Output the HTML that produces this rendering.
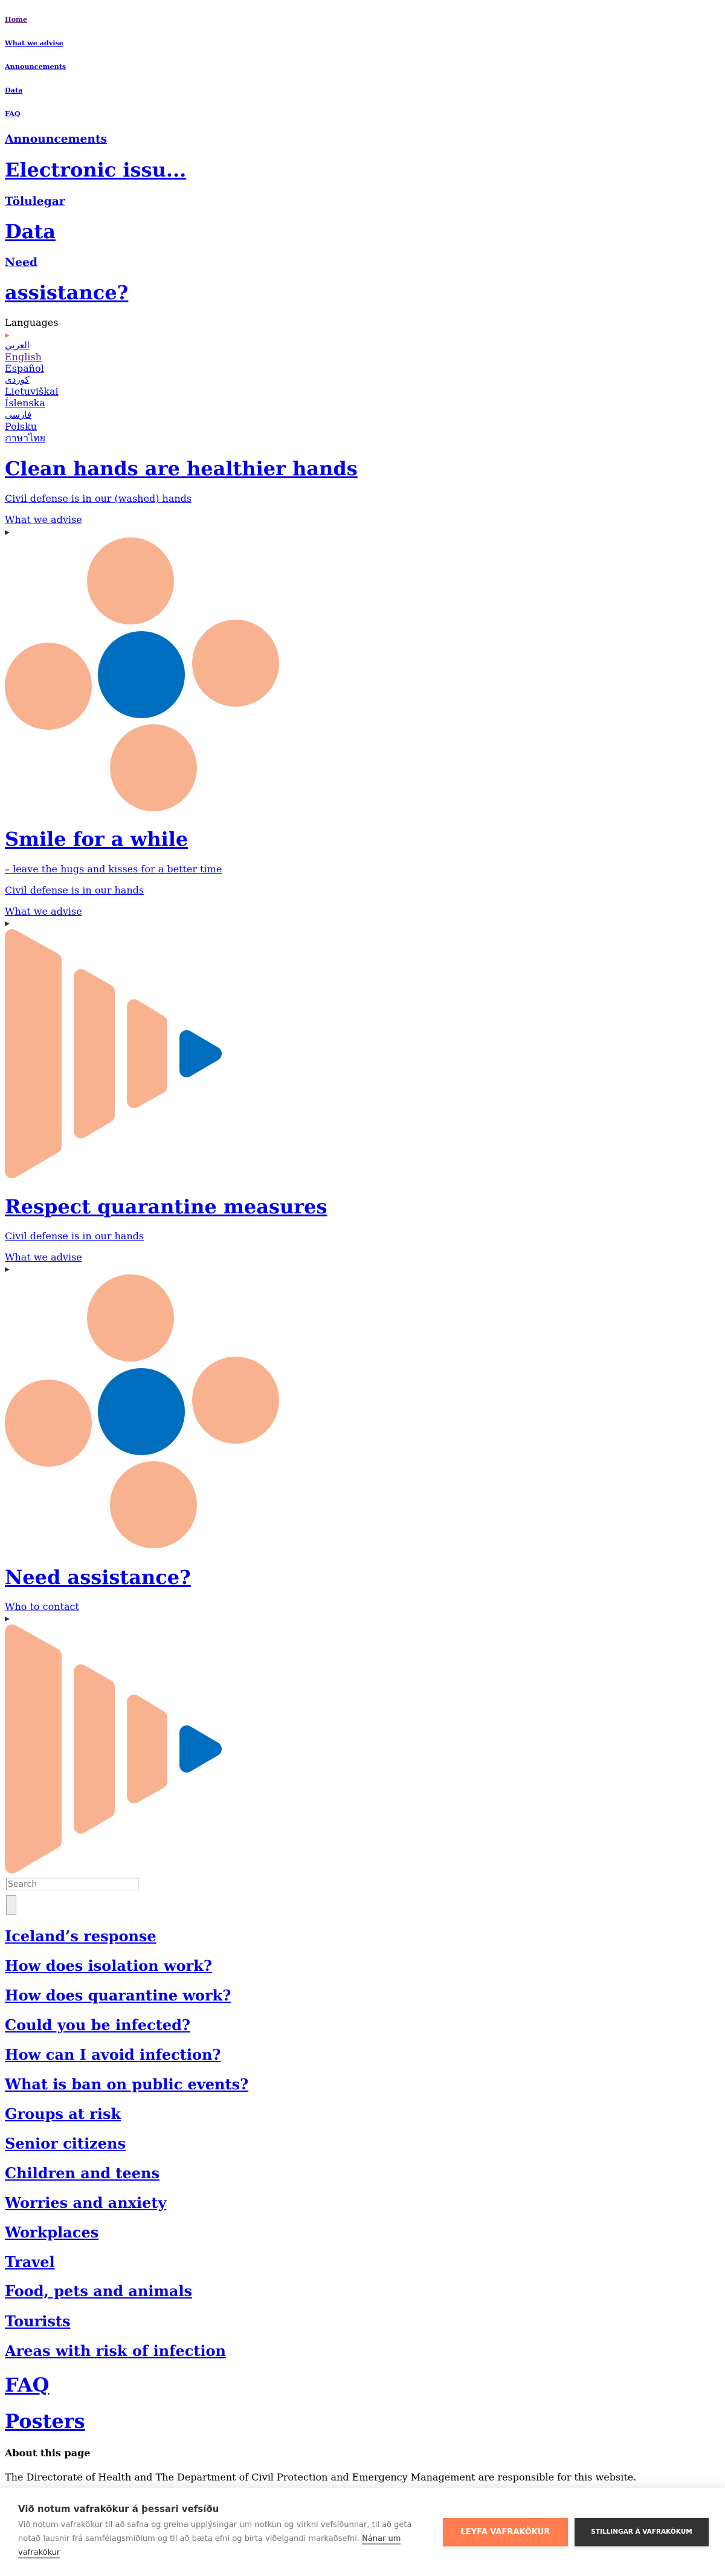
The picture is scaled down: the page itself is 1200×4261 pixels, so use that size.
<!DOCTYPE html>
<html><head><meta charset="utf-8">
<style>
html,body{margin:0;padding:0;background:#fff;}
body{width:1200px;height:4261px;position:relative;overflow:hidden;font-family:"DejaVu Serif","Liberation Serif",serif;}
.a{position:absolute;left:8px;white-space:nowrap;margin:0;}
a{color:#0000EE;text-decoration:underline;}
a.v{color:#551A8B;}
.h6{font-size:11.2px;font-weight:bold;line-height:13px;}
.h3{font-size:18.72px;font-weight:bold;line-height:22px;}
.h1{font-size:32px;font-weight:bold;line-height:38px;}
.h2{font-size:24px;font-weight:bold;line-height:28px;}
.p{font-size:16px;line-height:19px;}
.lang{font-size:16px;line-height:19px;}
svg{position:absolute;left:0;}
.banner{position:absolute;left:0;top:4115px;width:1200px;height:146px;background:#fff;box-shadow:0 -6px 14px rgba(0,0,0,0.08);font-family:"DejaVu Sans","Liberation Sans",sans-serif;}
.btn{position:absolute;top:50px;height:47px;color:#fff;font-weight:bold;text-align:center;line-height:47px;box-shadow:0 2px 6px rgba(0,0,0,0.15);}
</style></head><body>

<div class="a h6" style="top:26px"><a class="v">Home</a></div>
<div class="a h6" style="top:65px"><a>What we advise</a></div>
<div class="a h6" style="top:104px"><a>Announcements</a></div>
<div class="a h6" style="top:143px"><a>Data</a></div>
<div class="a h6" style="top:182px"><a>FAQ</a></div>

<div class="a h3" style="top:219px"><a>Announcements</a></div>
<div class="a h1" style="top:262px"><a>Electronic issu...</a></div>
<div class="a h3" style="top:322px"><a>Tölulegar</a></div>
<div class="a h1" style="top:364px"><a>Data</a></div>
<div class="a h3" style="top:423px"><a>Need</a></div>
<div class="a h1" style="top:465px"><a>assistance?</a></div>

<div class="a lang" style="top:524px;color:#000">Languages</div>
<svg style="top:550px" width="20" height="10"><polygon points="8,1 16,5 8,9" fill="#FF7D4F"/></svg>
<div class="a lang" style="top:562px;font-family:'DejaVu Sans',sans-serif;font-size:15px"><a>العربي</a></div>
<div class="a lang" style="top:581px"><a class="v">English</a></div>
<div class="a lang" style="top:600px"><a>Español</a></div>
<div class="a lang" style="top:619px;font-family:'DejaVu Sans',sans-serif;font-size:15px"><a>کوردی</a></div>
<div class="a lang" style="top:638px"><a>Lietuviškai</a></div>
<div class="a lang" style="top:657px"><a>Íslenska</a></div>
<div class="a lang" style="top:677px;font-family:'DejaVu Sans',sans-serif;font-size:15px"><a>فارسی</a></div>
<div class="a lang" style="top:696px"><a>Polsku</a></div>
<div class="a lang" style="top:715px"><a>ภาษาไทย</a></div>

<!-- Section 1 -->
<div class="a h1" style="top:756px"><a>Clean hands are healthier hands</a></div>
<div class="a p" style="top:815px"><a>Civil defense is in our (washed) hands</a></div>
<div class="a p" style="top:850px"><a>What we advise</a></div>
<svg style="top:876px" width="20" height="10"><polygon points="8,1 16,5 8,9" fill="#333"/></svg>
<svg style="top:880px" width="480" height="470">
<circle cx="216" cy="81" r="72" fill="#F9B28F"/>
<circle cx="80" cy="255" r="72" fill="#F9B28F"/>
<circle cx="234" cy="236" r="72" fill="#006EBF"/>
<circle cx="390" cy="217" r="72" fill="#F9B28F"/>
<circle cx="254" cy="390" r="72" fill="#F9B28F"/>
</svg>

<!-- Section 2 -->
<div class="a h1" style="top:1369px"><a>Smile for a while</a></div>
<div class="a p" style="top:1428px"><a>– leave the hugs and kisses for a better time</a></div>
<div class="a p" style="top:1463px"><a>Civil defense is in our hands</a></div>
<div class="a p" style="top:1498px"><a>What we advise</a></div>
<svg style="top:1523px" width="20" height="10"><polygon points="8,1 16,5 8,9" fill="#333"/></svg>
<svg style="top:1530px" width="400" height="430">
<g stroke-linejoin="round" stroke-width="24">
<polygon points="20,19 90,58 90,366 20,407" fill="#F9B28F" stroke="#F9B28F"/>
<polygon points="134,85 178,110 178,315 134,341" fill="#F9B28F" stroke="#F9B28F"/>
<polygon points="222,135 265,161 265,267 222,291" fill="#F9B28F" stroke="#F9B28F"/>
<polygon points="309,186 355,213 309,240" fill="#006EBF" stroke="#006EBF"/>
</g></svg>

<!-- Section 3 -->
<div class="a h1" style="top:1977px"><a>Respect quarantine measures</a></div>
<div class="a p" style="top:2035px"><a>Civil defense is in our hands</a></div>
<div class="a p" style="top:2070px"><a>What we advise</a></div>
<svg style="top:2095px" width="20" height="10"><polygon points="8,1 16,5 8,9" fill="#333"/></svg>
<svg style="top:2099px" width="480" height="470">
<circle cx="216" cy="81" r="72" fill="#F9B28F"/>
<circle cx="80" cy="255" r="72" fill="#F9B28F"/>
<circle cx="234" cy="236" r="72" fill="#006EBF"/>
<circle cx="390" cy="217" r="72" fill="#F9B28F"/>
<circle cx="254" cy="390" r="72" fill="#F9B28F"/>
</svg>

<!-- Section 4 -->
<div class="a h1" style="top:2590px"><a>Need assistance?</a></div>
<div class="a p" style="top:2648px"><a>Who to contact</a></div>
<svg style="top:2673px" width="20" height="10"><polygon points="8,1 16,5 8,9" fill="#333"/></svg>
<svg style="top:2680px" width="400" height="430">
<g stroke-linejoin="round" stroke-width="24">
<polygon points="20,19 90,58 90,366 20,407" fill="#F9B28F" stroke="#F9B28F"/>
<polygon points="134,85 178,110 178,315 134,341" fill="#F9B28F" stroke="#F9B28F"/>
<polygon points="222,135 265,161 265,267 222,291" fill="#F9B28F" stroke="#F9B28F"/>
<polygon points="309,186 355,213 309,240" fill="#006EBF" stroke="#006EBF"/>
</g></svg>

<input type="text" placeholder="Search" style="position:absolute;left:10px;top:3106px;width:214px;height:19px;padding:0 2px;border:1px solid #999;border-right-color:#ddd;border-bottom-color:#ddd;font-family:'DejaVu Sans',sans-serif;font-size:14px;box-sizing:content-box;">
<button style="position:absolute;left:10px;top:3135px;width:17px;height:32px;background:#efedea;border:1px solid #aaa;padding:0"></button>

<div class="a h2" style="top:3189px"><a>Iceland’s response</a></div>
<div class="a h2" style="top:3238px"><a>How does isolation work?</a></div>
<div class="a h2" style="top:3287px"><a>How does quarantine work?</a></div>
<div class="a h2" style="top:3336px"><a>Could you be infected?</a></div>
<div class="a h2" style="top:3385px"><a>How can I avoid infection?</a></div>
<div class="a h2" style="top:3434px"><a>What is ban on public events?</a></div>
<div class="a h2" style="top:3483px"><a>Groups at risk</a></div>
<div class="a h2" style="top:3532px"><a>Senior citizens</a></div>
<div class="a h2" style="top:3581px"><a>Children and teens</a></div>
<div class="a h2" style="top:3630px"><a>Worries and anxiety</a></div>
<div class="a h2" style="top:3679px"><a>Workplaces</a></div>
<div class="a h2" style="top:3728px"><a>Travel</a></div>
<div class="a h2" style="top:3776px"><a>Food, pets and animals</a></div>
<div class="a h2" style="top:3826px"><a>Tourists</a></div>
<div class="a h2" style="top:3875px"><a>Areas with risk of infection</a></div>

<div class="a h1" style="top:3926px"><a>FAQ</a></div>
<div class="a h1" style="top:3986px"><a>Posters</a></div>

<div class="a" style="top:4048px;font-size:16px;font-weight:bold;line-height:19px">About this page</div>
<div class="a" style="top:4088px;font-size:16px;line-height:19px">The Directorate of Health and The Department of Civil Protection and Emergency Management are responsible for this website.</div>

<div class="banner">
<div style="position:absolute;left:30px;top:25px;font-size:15px;font-weight:bold;color:#333;line-height:20px;white-space:nowrap">Við notum vafrakökur á þessari vefsíðu</div>
<div style="position:absolute;left:30px;top:50px;width:668px;font-size:13px;line-height:23px;color:#777">Við notum vafrakökur til að safna og greina upplýsingar um notkun og virkni vefsíðunnar, til að geta notað lausnir frá samfélagsmiðlum og til að bæta efni og birta viðeigandi markaðsefni. <span style="color:#333;border-bottom:2px solid #999">Nánar um vafrakökur</span></div>
<div class="btn" style="left:733px;width:207px;background:#FF7D4F;font-size:13px">LEYFA VAFRAKÖKUR</div>
<div class="btn" style="left:951px;width:222px;background:#333;font-size:10.5px">STILLINGAR Á VAFRAKÖKUM</div>
</div>

</body></html>
